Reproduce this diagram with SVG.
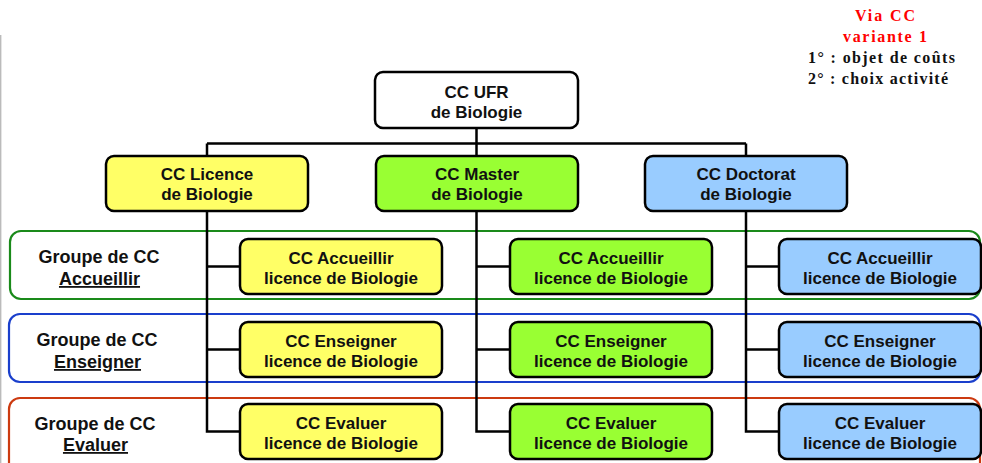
<svg xmlns="http://www.w3.org/2000/svg" width="982" height="463" viewBox="0 0 982 463">
<style>
.box{stroke:#000;stroke-width:2.5}
.w{fill:#fff}.y{fill:#ffff66}.g{fill:#99ff33}.b{fill:#99ccff}
.t{font-family:"Liberation Sans",Arial,sans-serif;font-weight:bold;font-size:17px;fill:#111;text-anchor:middle}
.gl{font-family:"Liberation Sans",Arial,sans-serif;font-weight:bold;font-size:18px;fill:#111;text-anchor:middle}
.frame{fill:none;stroke-width:2.2}
.c{fill:none;stroke:#000;stroke-width:2.5}
.s{font-family:"Liberation Serif","Times New Roman",serif;font-weight:bold;font-size:16px}
</style>
<rect width="982" height="463" fill="#fff"/>
<line x1="0.7" y1="35" x2="0.7" y2="463" stroke="#bbb" stroke-width="1.4"/>
<g id="note">
<text class="s" x="885" y="20.5" fill="#ff0000" text-anchor="middle" textLength="60" lengthAdjust="spacing">Via CC</text>
<text class="s" x="885" y="41.5" fill="#ff0000" text-anchor="middle" textLength="84" lengthAdjust="spacing">variante 1</text>
<text class="s" x="808" y="63" fill="#111" textLength="147" lengthAdjust="spacing">1° : objet de coûts</text>
<text class="s" x="808" y="84" fill="#111" textLength="140" lengthAdjust="spacing">2° : choix activité</text>
</g>
<g id="group-accueillir">
<rect class="frame" x="10" y="231" width="970" height="68" rx="11" stroke="#1a8a1a"/>
<text class="gl" x="99" y="262.5">Groupe de CC</text>
<text class="gl" x="99.5" y="285" text-decoration="underline">Accueillir</text>
</g>
<g id="group-enseigner">
<rect class="frame" x="9" y="314" width="971" height="68" rx="11" stroke="#1a3fcc"/>
<text class="gl" x="97" y="345.5">Groupe de CC</text>
<text class="gl" x="97.5" y="368" text-decoration="underline">Enseigner</text>
</g>
<g id="group-evaluer">
<rect class="frame" x="9" y="398" width="971" height="90" rx="11" stroke="#cc3a10"/>
<text class="gl" x="95" y="430">Groupe de CC</text>
<text class="gl" x="95.5" y="451" text-decoration="underline">Evaluer</text>
</g>
<g id="connectors">
<path class="c" d="M476.5 128V143.5M207 143.5H746"/>
<path class="c" d="M207 143.5V431.5H240M207 266.5H240M207 349.5H240"/>
<path class="c" d="M476.5 143.5V431.5H510M476.5 266.5H510M476.5 349.5H510"/>
<path class="c" d="M746 143.5V431.5H779M746 266.5H779M746 349.5H779"/>
</g>
<g id="ufr"><rect class="box w" x="375" y="72" width="203" height="56" rx="8"/>
<text class="t" x="476.5" y="98">CC UFR</text><text class="t" x="476.5" y="118">de Biologie</text></g>
<g id="licence"><rect class="box y" x="106" y="156" width="202" height="55" rx="8"/>
<text class="t" x="207" y="179.5">CC Licence</text><text class="t" x="207" y="200">de Biologie</text></g>
<g id="master"><rect class="box g" x="376" y="156" width="202" height="55" rx="8"/>
<text class="t" x="477" y="179.5">CC Master</text><text class="t" x="477" y="200">de Biologie</text></g>
<g id="doctorat"><rect class="box b" x="645" y="156" width="202" height="55" rx="8"/>
<text class="t" x="746" y="179.5">CC Doctorat</text><text class="t" x="746" y="200">de Biologie</text></g>
<g id="lic-accueillir"><rect class="box y" x="240" y="239" width="202" height="55" rx="8"/>
<text class="t" x="341" y="264">CC Accueillir</text><text class="t" x="341" y="283.5">licence de Biologie</text></g>
<g id="mas-accueillir"><rect class="box g" x="510" y="239" width="202" height="55" rx="8"/>
<text class="t" x="611" y="264">CC Accueillir</text><text class="t" x="611" y="283.5">licence de Biologie</text></g>
<g id="doc-accueillir"><rect class="box b" x="779" y="239" width="202" height="55" rx="8"/>
<text class="t" x="880" y="264">CC Accueillir</text><text class="t" x="880" y="283.5">licence de Biologie</text></g>
<g id="lic-enseigner"><rect class="box y" x="240" y="322" width="202" height="55" rx="8"/>
<text class="t" x="341" y="347">CC Enseigner</text><text class="t" x="341" y="366.5">licence de Biologie</text></g>
<g id="mas-enseigner"><rect class="box g" x="510" y="322" width="202" height="55" rx="8"/>
<text class="t" x="611" y="347">CC Enseigner</text><text class="t" x="611" y="366.5">licence de Biologie</text></g>
<g id="doc-enseigner"><rect class="box b" x="779" y="322" width="202" height="55" rx="8"/>
<text class="t" x="880" y="347">CC Enseigner</text><text class="t" x="880" y="366.5">licence de Biologie</text></g>
<g id="lic-evaluer"><rect class="box y" x="240" y="404" width="202" height="55" rx="8"/>
<text class="t" x="341" y="429">CC Evaluer</text><text class="t" x="341" y="448.5">licence de Biologie</text></g>
<g id="mas-evaluer"><rect class="box g" x="510" y="404" width="202" height="55" rx="8"/>
<text class="t" x="611" y="429">CC Evaluer</text><text class="t" x="611" y="448.5">licence de Biologie</text></g>
<g id="doc-evaluer"><rect class="box b" x="779" y="404" width="202" height="55" rx="8"/>
<text class="t" x="880" y="429">CC Evaluer</text><text class="t" x="880" y="448.5">licence de Biologie</text></g>
</svg>
